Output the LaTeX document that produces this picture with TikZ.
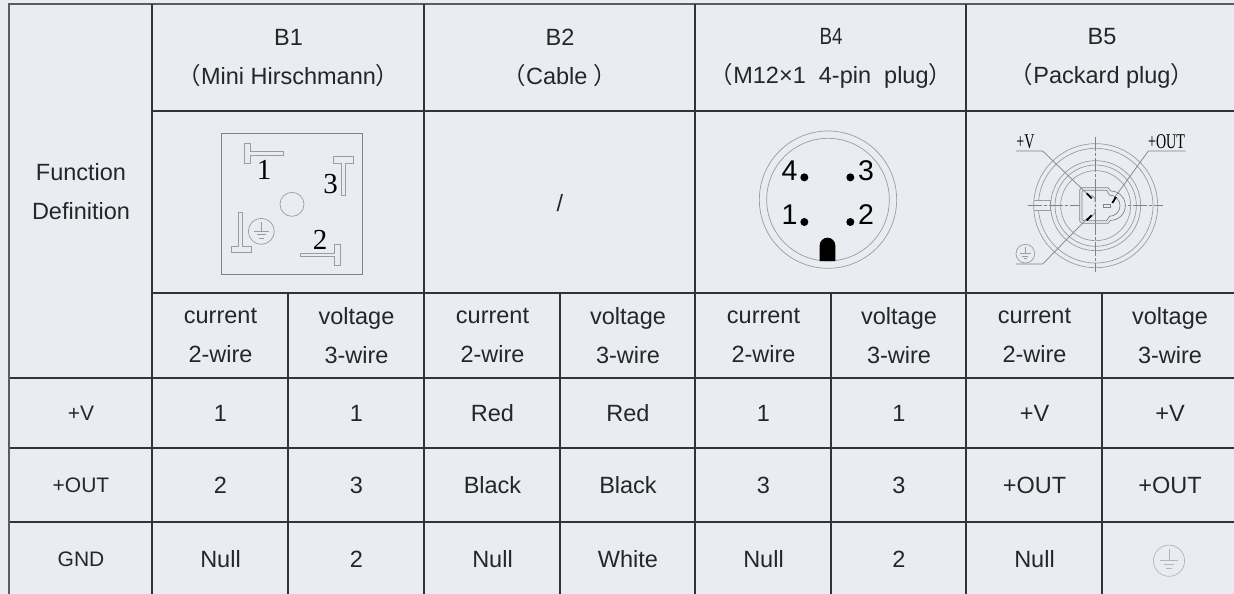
\documentclass[tikz,border=0pt]{standalone}
\usepackage{graphicx}
\usepackage{fontspec}
\setmainfont{Liberation Sans}
\newfontfamily\cjkf{Noto Sans CJK SC}
\newfontfamily\serf{Liberation Serif}
\definecolor{bgc}{HTML}{E9EDF1}
\definecolor{gridc}{HTML}{333335}
\definecolor{txtc}{HTML}{262628}
\definecolor{thinc}{HTML}{9A9C9E}
\definecolor{thind}{HTML}{808284}
\definecolor{thinl}{HTML}{B4B6B8}
\tikzset{
  x=1pt,y=-1pt,
  gridline/.style={draw=gridc,line width=2pt},
  cell/.style={inner sep=0pt,text=txtc,font=\fontsize{23.5}{39}\selectfont,align=center},
  smallcell/.style={cell,font=\fontsize{21}{39}\selectfont},
  draft/.style={draw=thinc,line width=.7pt},
  draftd/.style={draw=thind,line width=.7pt},
  centerline/.style={draw=thind,line width=.7pt,dash pattern=on 14pt off 2pt on 3pt off 2pt},
  pinnum/.style={inner sep=0pt,text=black,font=\fontsize{28.5}{28}\selectfont},
  serifnum/.style={inner sep=0pt,text=black,font=\serf\fontsize{29}{29}\selectfont},
  draftlabel/.style={inner sep=0pt,text=black,font=\serf\fontsize{21}{21}\selectfont,xscale=.67}
}
% ground symbol: centre x, y, scale
\newcommand{\groundsym}[4][draft]{%
  \begin{scope}[shift={(#2,#3)},scale=#4]
    \draw[#1] (0,0) circle (39);
    \draw[#1] (0,-29) -- (0,0) (-22,0) -- (22,0) (-13,10) -- (13,10) (-7,20) -- (7,20);
  \end{scope}}
\newcommand{\lp}{{\cjkf （}}
\newcommand{\rp}{{\cjkf ）}}
\begin{document}
\begin{tikzpicture}
\useasboundingbox (0,0) rectangle (1234,594);
\fill[bgc] (0,0) rectangle (1234,594);
% grid
\draw[gridline,draw=gridc!80] (8,4) -- (1234,4);
\draw[gridline] (152,111) -- (1234,111);
\draw[gridline] (152,293) -- (1234,293);
\foreach \yy in {378,448,522} \draw[gridline] (9,\yy) -- (1234,\yy);
\draw[gridline,draw=gridc!80] (9,3) -- (9,594);
\foreach \xx in {152,424,695,966} \draw[gridline] (\xx,4) -- (\xx,594);
\foreach \xx in {288,560,831,1102} \draw[gridline] (\xx,293) -- (\xx,594);
% headers
\node[cell] (h1) at (288.5,58) {B1\\\lp Mini Hirschmann\rp};
\node[cell] (h2) at (560,58) {B2\\\lp Cable \rp};
\node[cell] (h4) at (831,58) {\scalebox{.8}[1]{B4}\\\lp M12×1\ \ 4-pin\ \ plug\rp};
\node[cell] (h5) at (1102,58) {B5\\\lp Packard plug\rp};
\node[cell] (fd) at (81,192) {Function\\Definition};
\node[cell] (slash) at (560,203) {/};
% wire type rows
\foreach \xx/\nm in {220.5/a,492.5/c,763.5/e,1034.5/g}
  \node[cell] (cur\nm) at (\xx,335.5) {current\\2-wire};
\foreach \xx/\nm in {356.5/b,628/d,899/f,1170/h}
  \node[cell] (vol\nm) at (\xx,335.5) {voltage\\3-wire};
% row headers
\node[smallcell] (rv) at (81,413.5) {+V};
\node[smallcell] (rout) at (81,485.5) {+OUT};
\node[smallcell] (rgnd) at (81,559) {GND};
% body rows
\foreach \xx/\lbl/\nm in {220.5/1/a,356.5/1/b,492.5/Red/c,628/Red/d,763.5/1/e,899/1/f,1034.5/+V/g,1170/+V/h}
  \node[cell] (v\nm) at (\xx,413.5) {\lbl};
\foreach \xx/\lbl/\nm in {220.5/2/a,356.5/3/b,492.5/Black/c,628/Black/d,763.5/3/e,899/3/f,1034.5/+OUT/g,1170/+OUT/h}
  \node[cell] (o\nm) at (\xx,485.5) {\lbl};
\foreach \xx/\lbl/\nm in {220.5/Null/a,356.5/2/b,492.5/Null/c,628/White/d,763.5/Null/e,899/2/f,1034.5/Null/g}
  \node[cell] (g\nm) at (\xx,559) {\lbl};
\groundsym[draw=thinl,line width=.7pt]{1169}{560.7}{.4}
% B1 connector
\begin{scope}[shift={(190,115)},scale=1/3]
  \draw[draftd] (94,55) rectangle (518,478);
  \draw[draft] (163,85)--(180,85)--(180,108)--(281,108)--(281,122)--(180,122)--(180,145)--(163,145)--cycle;
  \draw[draft] (429,124)--(491,124)--(491,145)--(467,145)--(467,240)--(453,240)--(453,145)--(429,145)--cycle;
  \draw[draft] (331,414)--(432,414)--(432,388)--(451,388)--(451,451)--(432,451)--(432,425)--(331,425)--cycle;
  \draw[draft] (146,293)--(158,293)--(158,393)--(183,393)--(183,412)--(123,412)--(123,393)--(146,393)--cycle;
  \draw[draft] (306,268) circle (36);
  \groundsym{214}{349}{1}
\end{scope}
\node[serifnum] (b1n1) at (264,170) {1};
\node[serifnum] (b1n3) at (330.5,184) {3};
\node[serifnum] (b1n2) at (320,240) {2};
% B4 connector
\begin{scope}[shift={(770,115)},scale=1/3]
  \draw[draft] (174,254) circle (206);
  \draw[draft] (174,254) circle (184);
  \foreach \px/\py in {103/187,241/187,103/321,241/321} \fill[black] (\px,\py) circle (12);
  \fill[black] (149,438) -- (149,391.5) arc[start angle=180,end angle=360,radius=23.5] -- (196,438) -- cycle;
\end{scope}
\node[pinnum] (b4n4) at (789.5,171) {4};
\node[pinnum] (b4n3) at (866,171) {3};
\node[pinnum] (b4n1) at (789.5,215) {1};
\node[pinnum] (b4n2) at (866,215) {2};
% B5 connector
\begin{scope}[shift={(980,115)},scale=1/3]
  \foreach \rr in {186,172,135,122,105} \draw[draft] (347,272) circle (\rr);
  \fill[bgc] (165,258) rectangle (210,284);
  \draw[draft] (163,256)--(212,256)--(212,286)--(163,286);
  \draw[centerline] (143,272)--(550,272);
  \draw[centerline] (347,65)--(347,470);
  \fill[bgc] (299,218)--(385,218)--(392,228) arc[start angle=-90,end angle=90,radius=44]--(385,325)--(299,325)--cycle;
  \draw[draftd] (306,218)--(384,218)--(392,228) arc[start angle=-90,end angle=90,radius=44]--(384,325)--(306,325)--(299,318)--(299,225)--cycle;
  \draw[draftd] (310,226)--(380,226)--(388,240) arc[start angle=-90,end angle=90,radius=32]--(380,317)--(310,317)--(306,313)--(306,230)--cycle;
  \draw[draftd] (370,267) rectangle (390,276);
  \draw[draftd] (335,240)--(345,250)--(345,262) (335,304)--(345,294)--(345,282);
  \draw[centerline] (347,218)--(347,325);
  \draw[draftd] (108,108)--(188,108)--(320,235);
  \draw[draftd] (617,108)--(505,108)--(402,250);
  \draw[draftd] (108,447)--(188,447)--(322,310);
  \draw[black,line width=1.8pt] (320,235)--(335,250);
  \draw[black,line width=1.8pt] (408,246)--(397,264);
  \draw[black,line width=1.8pt] (335,301)--(320,316);
  \groundsym{136}{416}{.72}
\end{scope}
\node[draftlabel] (b5v) at (1025.5,142) {+V};
\node[draftlabel] (b5o) at (1166.5,142) {+OUT};
\end{tikzpicture}
\end{document}
